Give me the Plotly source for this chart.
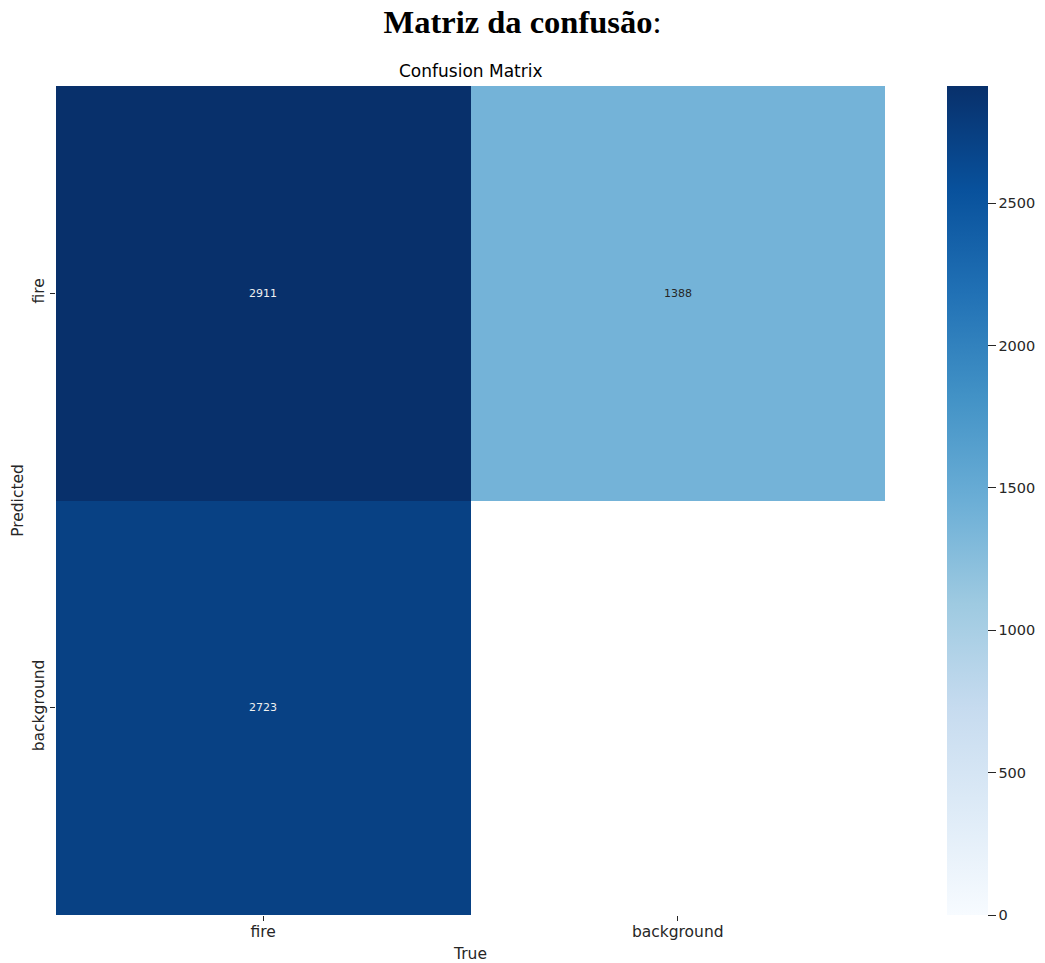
import plotly.graph_objects as go
import plotly.express as px

# Confusion matrix counts (rows = predicted, columns = true)
true_labels = ["fire", "background"]
pred_labels = ["fire", "background"]
counts_fire_row = [2911, 1388]
counts_background_row = [2723, None]
colorbar_ticks = [0, 500, 1000, 1500, 2000, 2500]

z = [counts_fire_row, counts_background_row]
zmax = max(v for row in z for v in row if v is not None)

blues = px.colors.sequential.Blues
n = len(blues)
colorscale = [[i / (n - 1), c] for i, c in enumerate(blues)]

W, H = 1045, 963
L, R, T, B = 56, 160, 86, 48
plot_w = W - L - R
plot_h = H - T - B
TXT = "#262626"

fig = go.Figure()
fig.add_trace(go.Heatmap(
    z=z, x=true_labels, y=pred_labels,
    colorscale=colorscale, zmin=0, zmax=zmax,
    xgap=0, ygap=0, hoverongaps=False,
    colorbar=dict(
        x=(947 - L) / plot_w, xanchor="left", xref="paper",
        y=0, yanchor="bottom", yref="paper",
        len=1, lenmode="fraction",
        thickness=41, outlinewidth=0, xpad=0, ypad=0,
        tickvals=colorbar_ticks, ticks="outside", ticklen=8, tickwidth=1,
        tickcolor=TXT,
        tickfont=dict(family="DejaVu Sans", size=14.5, color=TXT),
    ),
))

# cell value labels, light text on dark cells
for i, row in enumerate(z):
    for j, v in enumerate(row):
        if v is None:
            continue
        color = "#f0f0f0" if v / zmax > 0.6 else TXT
        fig.add_annotation(x=true_labels[j], y=pred_labels[i], text=str(v),
                           showarrow=False,
                           font=dict(family="DejaVu Sans", size=11, color=color))

fig.add_annotation(xref="paper", yref="paper", x=0.5, y=(plot_h + 15) / plot_h,
                   text="Confusion Matrix", showarrow=False, yanchor="middle",
                   font=dict(family="DejaVu Sans", size=17, color="#000000"))

fig.update_layout(
    width=W, height=H,
    margin=dict(l=L, r=R, t=T, b=B, pad=0, autoexpand=False),
    paper_bgcolor="white", plot_bgcolor="white",
    title=dict(text="<b>Matriz da confusão</b>:", x=0.5, xanchor="center",
               y=1 - 22 / H, yanchor="middle", xref="container", yref="container",
               font=dict(family="Liberation Serif", size=32.5, color="#000000")),
    xaxis=dict(
        automargin=False,
        showgrid=False, zeroline=False, showline=False,
        ticks="outside", ticklen=5, tickwidth=1, tickcolor=TXT,
        ticklabelstandoff=-3,
        tickfont=dict(family="DejaVu Sans", size=15.5, color=TXT),
        title=dict(text="True", standoff=8,
                   font=dict(family="DejaVu Sans", size=15.5, color=TXT)),
    ),
    yaxis=dict(
        automargin=False,
        autorange="reversed",
        showgrid=False, zeroline=False, showline=False,
        ticks="outside", ticklen=5, tickwidth=1, tickcolor=TXT,
        tickangle=-90,
        tickfont=dict(family="DejaVu Sans", size=15.5, color=TXT),
        title=dict(text="Predicted", standoff=2,
                   font=dict(family="DejaVu Sans", size=15.5, color=TXT)),
    ),
)

fig.write_html("out.html")
